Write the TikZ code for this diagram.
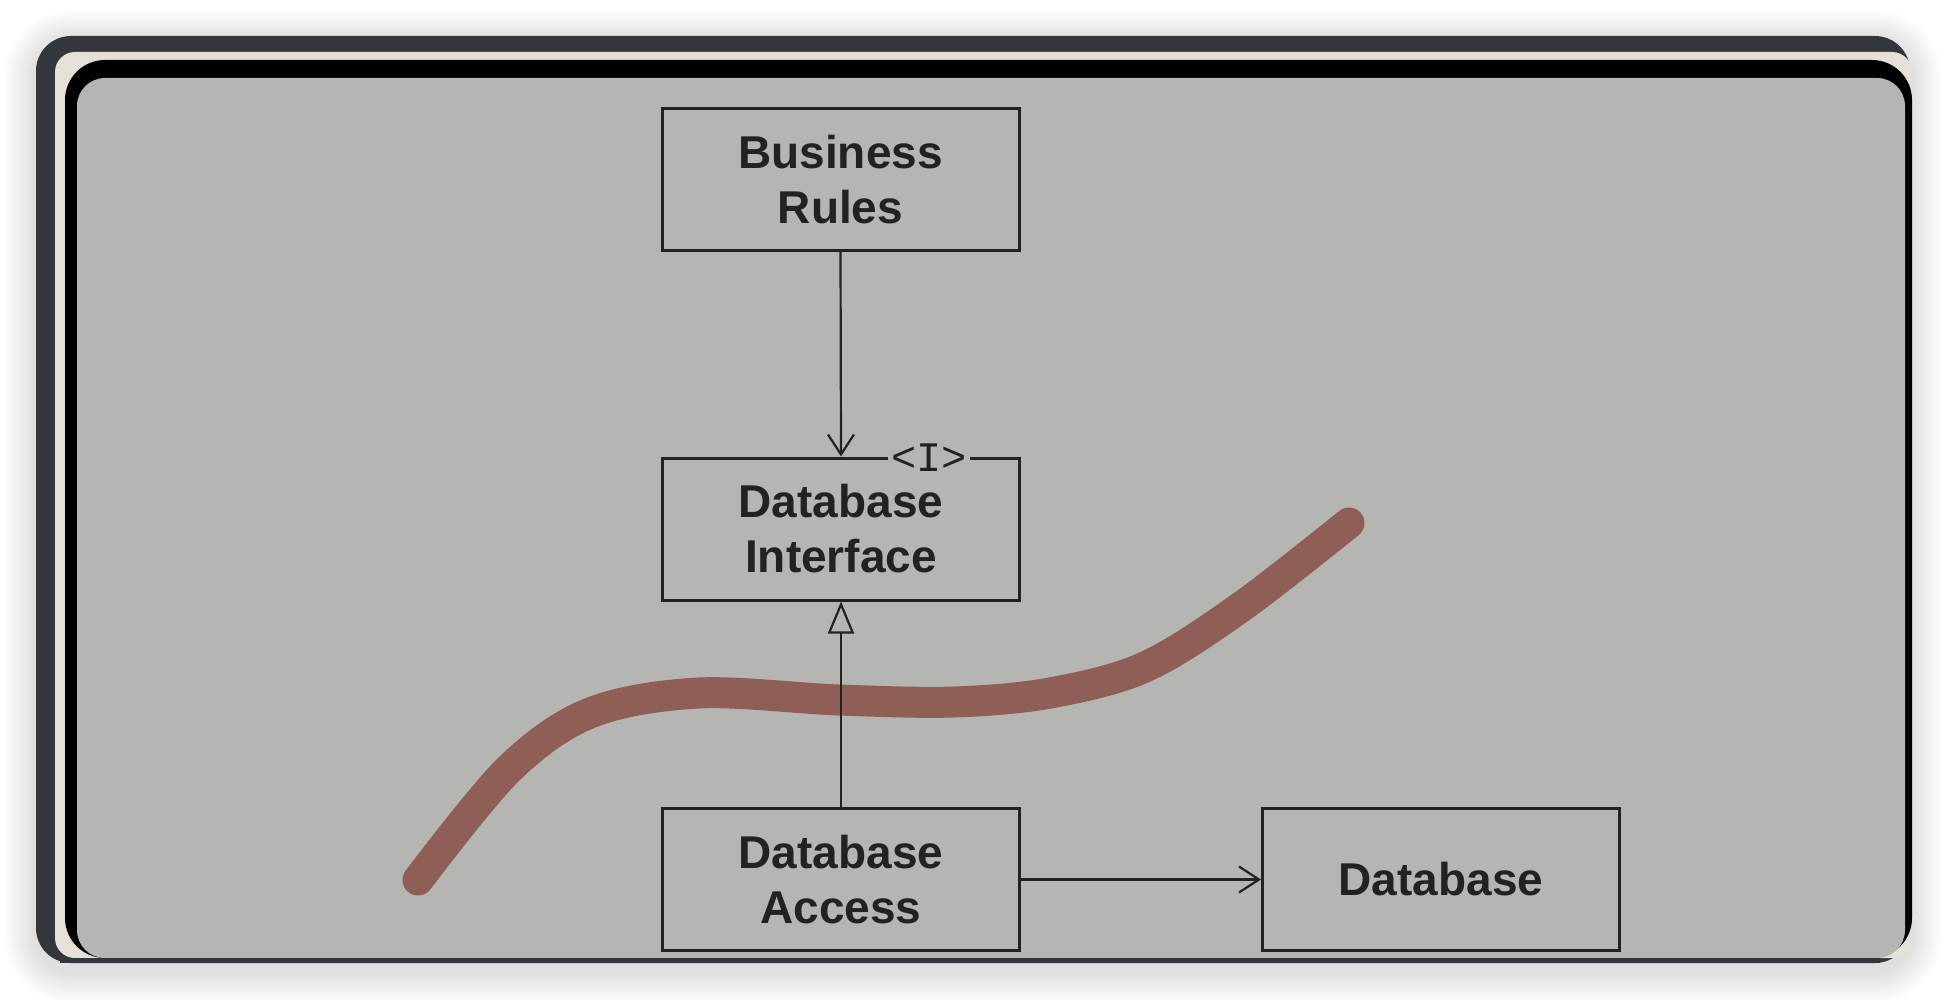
\documentclass[tikz,border=0pt]{standalone}
\usepackage{fontspec}
\setmainfont{Liberation Sans}
\newfontfamily\monofont{Liberation Mono}
\usetikzlibrary{arrows.meta}
\definecolor{framedark}{HTML}{33363B}
\definecolor{cream}{HTML}{E6E1D8}
\definecolor{paper}{HTML}{B5B5B1}
\definecolor{marker}{HTML}{8E5A52}
\definecolor{ink}{HTML}{222222}
\tikzset{
  box/.style={draw=ink, line width=1.5pt, minimum width=178.5pt, minimum height=71pt,
    inner sep=0pt, align=center, font=\fontsize{23}{27.5}\selectfont\bfseries, text=ink},
  link/.style={draw=ink, line width=1.1pt},
  openhead/.style={-{Straight Barb[length=10pt,width=13pt,line width=1.1pt]}},
  hollowhead/.style={-{Triangle[open,length=16pt,width=13pt,line width=1.1pt,fill=paper]}},
  markerline/.style={draw=marker, line width=15.5pt, line cap=round, line join=round, opacity=0.95},
}
\begin{document}
\begin{tikzpicture}[x=0.5pt,y=-0.5pt]
\useasboundingbox (0,0) rectangle (1948,1000);
\fill[white] (0,0) rectangle (1948,1000);
% soft shadow
\foreach \i in {1,...,16}{
  \fill[black,opacity=0.006,rounded corners=(17.5pt+\i*1pt)] (36-\i*2,36-\i*2+6) rectangle (1910+\i*2,963+\i*2+8);
}
% outer dark frame
\fill[framedark,rounded corners=17.5pt] (36,36) rectangle (1910,963);
% cream strip
\fill[cream,rounded corners=10pt] (55,52) rectangle (1912,958);
% black band
\fill[black,rounded corners=20pt] (65,60) rectangle (1912,958);
% gray paper
\fill[paper,rounded corners=14pt] (77,78) rectangle (1905,958);
\fill[framedark] (60,958) rectangle (1880,963);
% red marker line
\draw[markerline] plot[smooth,tension=0.55] coordinates {(418,880) (508,770) (590,713) (699,693) (839,700) (954,702) (1050,693) (1145,667) (1241,607) (1349,523)};
% boxes
\node[box] (rules) at (840.5,179.5) {Business\\Rules};
\node[box] (iface) at (841,529) {Database\\Interface};
\node[box] (access) at (841,879.5) {Database\\Access};
\node[box] (db) at (1441,879.5) {Database};
\node[fill=paper, inner sep=1.5pt, font=\monofont\fontsize{21}{21}\selectfont, text=ink] (stereo) at (929,458) {<I>};
% connectors
\draw[link,openhead] (rules.south) -- (iface.north);
\draw[link,hollowhead] (access.north) -- (iface.south);
\draw[link,openhead] (access.east) -- (db.west);
\end{tikzpicture}
\end{document}
